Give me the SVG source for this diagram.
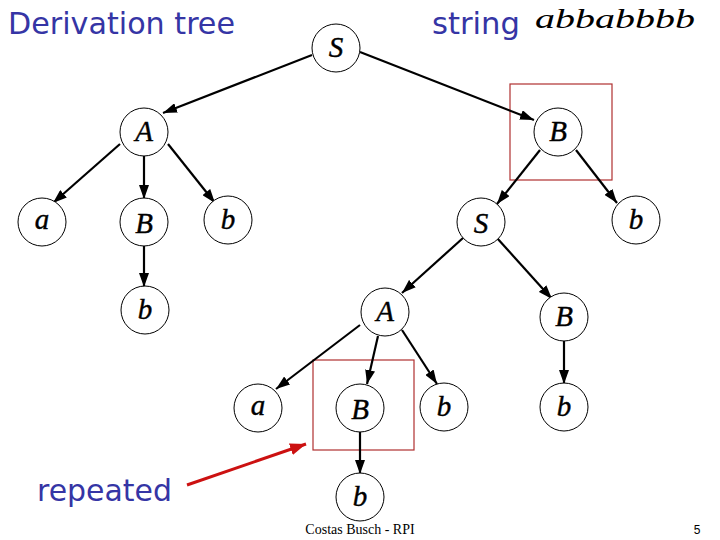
<svg xmlns="http://www.w3.org/2000/svg" width="720" height="540" viewBox="0 0 720 540">
<defs>
<marker id="ah" markerUnits="userSpaceOnUse" markerWidth="14" markerHeight="10" refX="14" refY="5" orient="auto"><path d="M0,0 L14,5 L0,10 z" fill="#000"/></marker>
<marker id="ahr" markerUnits="userSpaceOnUse" markerWidth="16" markerHeight="12" refX="16" refY="6" orient="auto"><path d="M0,0 L16,6 L0,12 z" fill="#cc1111"/></marker>
</defs>
<style>
.n circle{fill:#fff;stroke:#000;stroke-width:1}
.n text{font-family:"Liberation Serif",serif;font-style:italic;font-size:29px;text-anchor:middle;stroke:#000;stroke-width:0.4}
.e line{stroke:#000;stroke-width:2.2;marker-end:url(#ah)}
.t{font-family:"DejaVu Sans",sans-serif;fill:#3535a5;font-size:31px}
.box{fill:none;stroke:#b03030;stroke-width:1.2}
</style>
<rect width="720" height="540" fill="#fff"/>
<text class="t" x="8" y="34" textLength="227" lengthAdjust="spacingAndGlyphs">Derivation tree</text>
<text class="t" x="432" y="34" textLength="88" lengthAdjust="spacingAndGlyphs">string</text>
<text x="535" y="28" font-family="'Liberation Serif',serif" font-style="italic" font-size="28" textLength="160" lengthAdjust="spacingAndGlyphs">abbabbbb</text>
<text class="t" x="37" y="501" textLength="135" lengthAdjust="spacingAndGlyphs">repeated</text>
<rect class="box" x="510" y="84" width="102" height="96"/>
<rect class="box" x="313" y="360" width="101" height="90"/>
<g id="connectors" class="e">
<line x1="312" y1="55" x2="163" y2="113"/>
<line x1="360" y1="52" x2="534" y2="120"/>
<line x1="120" y1="144" x2="53" y2="203"/>
<line x1="144" y1="156" x2="144" y2="199"/>
<line x1="168" y1="144" x2="215" y2="203"/>
<line x1="144" y1="246" x2="144" y2="287"/>
<line x1="540" y1="150" x2="497" y2="204"/>
<line x1="576" y1="150" x2="617" y2="203"/>
<line x1="463" y1="238" x2="402" y2="293"/>
<line x1="497" y1="238" x2="552" y2="299"/>
<line x1="360" y1="325" x2="276" y2="389"/>
<line x1="378" y1="336" x2="367" y2="384"/>
<line x1="402" y1="330" x2="437" y2="384"/>
<line x1="564" y1="341" x2="564" y2="384"/>
<line x1="360" y1="432" x2="360" y2="474"/>
<line x1="187" y1="485" x2="306" y2="444" style="stroke:#cc1111;stroke-width:3;marker-end:url(#ahr)"/>
</g>
<g id="n_S1" class="n"><circle cx="336" cy="48" r="24"/><text x="336" y="57">S</text></g>
<g id="n_A1" class="n"><circle cx="144" cy="132" r="24"/><text x="144" y="141">A</text></g>
<g id="n_B1" class="n"><circle cx="558" cy="132" r="24"/><text x="558" y="141">B</text></g>
<g id="n_a1" class="n"><circle cx="42" cy="222" r="24"/><text x="42" y="229">a</text></g>
<g id="n_B2" class="n"><circle cx="144" cy="222" r="24"/><text x="144" y="233">B</text></g>
<g id="n_b1" class="n"><circle cx="228" cy="220" r="24"/><text x="228" y="229">b</text></g>
<g id="n_b2" class="n"><circle cx="145" cy="310" r="24"/><text x="145" y="319">b</text></g>
<g id="n_S2" class="n"><circle cx="481" cy="222" r="24"/><text x="481" y="233">S</text></g>
<g id="n_b3" class="n"><circle cx="636" cy="220" r="24"/><text x="636" y="229">b</text></g>
<g id="n_A2" class="n"><circle cx="385" cy="312" r="24"/><text x="385" y="321">A</text></g>
<g id="n_B3" class="n"><circle cx="564" cy="317" r="24"/><text x="564" y="326">B</text></g>
<g id="n_a2" class="n"><circle cx="258" cy="408" r="24"/><text x="258" y="415">a</text></g>
<g id="n_B4" class="n"><circle cx="360" cy="408" r="24"/><text x="360" y="419">B</text></g>
<g id="n_b4" class="n"><circle cx="444" cy="407" r="24"/><text x="444" y="416">b</text></g>
<g id="n_b5" class="n"><circle cx="564" cy="407" r="24"/><text x="564" y="416">b</text></g>
<g id="n_b6" class="n"><circle cx="360" cy="497" r="24"/><text x="360" y="506">b</text></g>
<text x="360" y="534" font-family="'Liberation Serif',serif" font-size="14" text-anchor="middle">Costas Busch - RPI</text>
<text x="697" y="534" font-family="'Liberation Sans',sans-serif" font-size="12" text-anchor="middle">5</text>
</svg>
